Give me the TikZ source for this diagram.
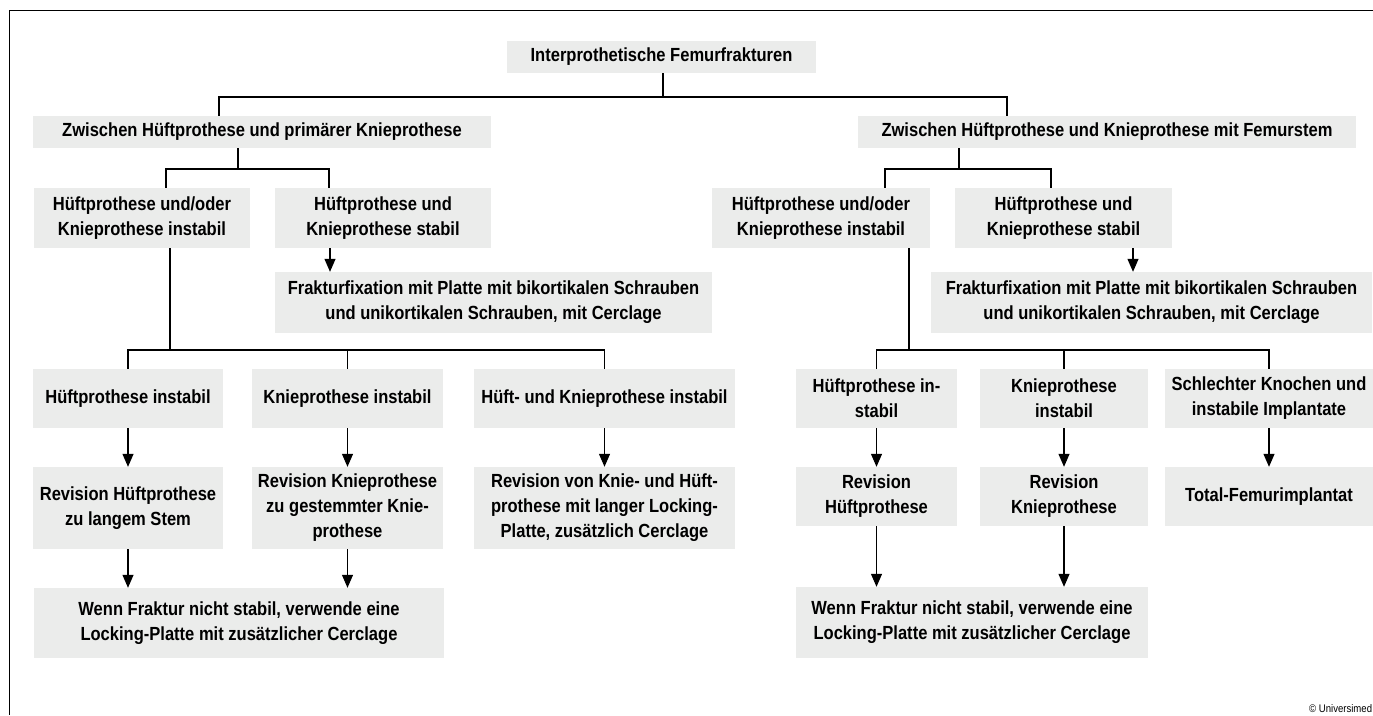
\documentclass[tikz,border=0pt]{standalone}
\usepackage{fontspec}
\setmainfont{Liberation Sans}[FakeStretch=0.87]
\usetikzlibrary{arrows.meta}
\definecolor{boxgray}{HTML}{EBECEB}
\tikzset{
  box/.style={fill=boxgray, inner sep=0pt, align=center, font=\bfseries\fontsize{19}{25}\selectfont},
  link/.style={line width=1.2pt},
  arr/.style={link, -{Triangle[width=11pt,length=13pt]}},
}

\begin{document}
\begin{tikzpicture}[x=1pt,y=-1pt]
    \useasboundingbox (0,0) rectangle (1373,715);
    \draw[line width=1pt] (1373,10) -- (9,10) -- (9,715);

    \node[box, minimum width=309pt, minimum height=32pt] (root) at (661.5,57) {Interprothetische Femurfrakturen};
    \node[box, minimum width=458pt, minimum height=32pt] (zl) at (262,132) {Zwischen Hüftprothese und primärer Knieprothese};
    \node[box, minimum width=498pt, minimum height=32pt] (zr) at (1107,132) {Zwischen Hüftprothese und Knieprothese mit Femurstem};

    \node[box, minimum width=216pt, minimum height=60pt] (al) at (142,218) {Hüftprothese und/oder\\Knieprothese instabil};
    \node[box, minimum width=216pt, minimum height=60pt] (bl) at (383,218) {Hüftprothese und\\Knieprothese stabil};
    \node[box, minimum width=218pt, minimum height=60pt] (ar) at (821,218) {Hüftprothese und/oder\\Knieprothese instabil};
    \node[box, minimum width=217pt, minimum height=60pt] (br) at (1063.5,218) {Hüftprothese und\\Knieprothese stabil};

    \node[box, minimum width=437pt, minimum height=61pt] (fl) at (493.5,302.5) {Frakturfixation mit Platte mit bikortikalen Schrauben\\und unikortikalen Schrauben, mit Cerclage};
    \node[box, minimum width=441pt, minimum height=61pt] (fr) at (1151.5,302.5) {Frakturfixation mit Platte mit bikortikalen Schrauben\\und unikortikalen Schrauben, mit Cerclage};

    \node[box, minimum width=190pt, minimum height=59pt] (h1) at (128,398.5) {Hüftprothese instabil};
    \node[box, minimum width=191pt, minimum height=59pt] (k1) at (347.5,398.5) {Knieprothese instabil};
    \node[box, minimum width=261pt, minimum height=59pt] (hk) at (604.5,398.5) {Hüft- und Knieprothese instabil};
    \node[box, minimum width=161pt, minimum height=59pt] (h2) at (876.5,398.5) {Hüftprothese in-\\stabil};
    \node[box, minimum width=168pt, minimum height=59pt] (k2) at (1064,398.5) {Knieprothese\\instabil};
    \node[box, minimum width=208pt, minimum height=59pt] (sk) at (1269,398.5) {Schlechter Knochen und\\instabile Implantate};

    \node[box, minimum width=190pt, minimum height=82pt] (rh1) at (128,508) {Revision Hüftprothese\\zu langem Stem};
    \node[box, minimum width=191pt, minimum height=82pt] (rk1) at (347.5,508) {Revision Knieprothese\\zu gestemmter Knie-\\prothese};
    \node[box, minimum width=261pt, minimum height=82pt] (rhk) at (604.5,508) {Revision von Knie- und Hüft-\\prothese mit langer Locking-\\Platte, zusätzlich Cerclage};
    \node[box, minimum width=161pt, minimum height=59pt] (rh2) at (876.5,496.5) {Revision\\Hüftprothese};
    \node[box, minimum width=168pt, minimum height=59pt] (rk2) at (1064,496.5) {Revision\\Knieprothese};
    \node[box, minimum width=208pt, minimum height=59pt] (tf) at (1269,496.5) {Total-Femurimplantat};

    \node[box, minimum width=410pt, minimum height=70pt] (wl) at (239,623) {Wenn Fraktur nicht stabil, verwende eine\\Locking-Platte mit zusätzlicher Cerclage};
    \node[box, minimum width=352pt, minimum height=71pt] (wr) at (972,622.5) {Wenn Fraktur nicht stabil, verwende eine\\Locking-Platte mit zusätzlicher Cerclage};

    \node[anchor=south west, inner sep=0pt, font=\fontsize{11}{12}\selectfont] (copy) at (1309,713) {© Universimed};

    \coordinate (t0) at (663,97);
    \draw[link] (root.south -| t0) -- (t0);
    \draw[link] (zl.north -| 219,0) |- (t0) -| (zr.north -| 1007,0);

    \draw[link] (zl.south -| 238,0) -- (238,169) coordinate (t1);
    \draw[link] (al.north -| 166,0) |- (t1) -| (bl.north -| 329,0);
    \draw[link] (zr.south -| 959,0) -- (959,169) coordinate (t2);
    \draw[link] (ar.north -| 885,0) |- (t2) -| (br.north -| 1051,0);

    \draw[arr] (bl.south -| 330,0) -- (fl.north -| 330,0);
    \draw[arr] (br.south -| 1133,0) -- (fr.north -| 1133,0);

    \draw[link] (al.south -| 170,0) -- (170,350) coordinate (t3);
    \draw[link] (h1.north) |- (t3) -| (hk.north);
    \draw[link] (k1.north) -- (k1.north |- t3);
    \draw[link] (ar.south -| 909,0) -- (909,350) coordinate (t4);
    \draw[link] (h2.north) |- (t4) -| (sk.north);
    \draw[link] (k2.north) -- (k2.north |- t4);

    \draw[arr] (h1) -- (rh1);
    \draw[arr] (k1) -- (rk1);
    \draw[arr] (hk) -- (rhk);
    \draw[arr] (h2) -- (rh2);
    \draw[arr] (k2) -- (rk2);
    \draw[arr] (sk) -- (tf);

    \draw[arr] (rh1.south) -- (rh1.south |- wl.north);
    \draw[arr] (rk1.south) -- (rk1.south |- wl.north);
    \draw[arr] (rh2.south) -- (rh2.south |- wr.north);
    \draw[arr] (rk2.south) -- (rk2.south |- wr.north);
\end{tikzpicture}
\end{document}
